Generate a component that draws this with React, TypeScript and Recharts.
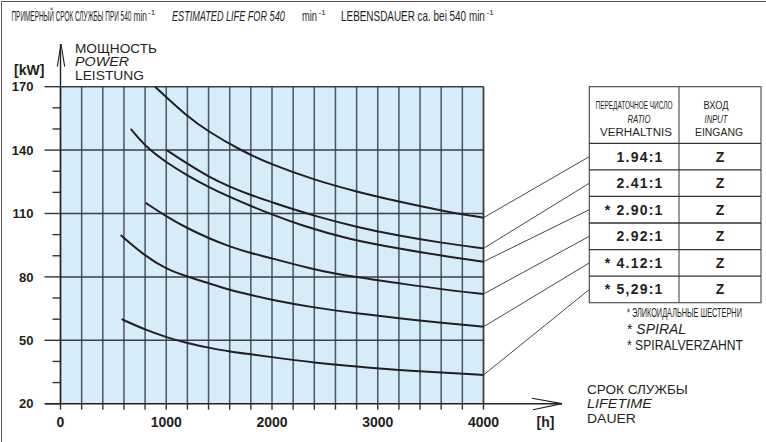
import React, { useLayoutEffect, useRef, useState } from "react";
import { LineChart, Line, XAxis, YAxis, CartesianGrid, ReferenceLine } from "recharts";

// axis ticks
const hourTicks = [0, 200, 400, 600, 800, 1000, 1200, 1400, 1600, 1800, 2000, 2200, 2400, 2600, 2800, 3000, 3200, 3400, 3600, 3800, 4000];
const hourLabels = [0, 1000, 2000, 3000, 4000];
const powerTicks = [20, 30, 40, 50, 60, 70, 80, 90, 100, 110, 120, 130, 140, 150, 160, 170];
const powerLabels = [20, 50, 80, 110, 140, 170];
const powerGrid = [50, 80, 110, 140, 170];

// table
const ratioLabels = ["1.94:1", "2.41:1", "* 2.90:1", "2.92:1", "* 4.12:1", "* 5,29:1"];
const inputLabels = ["Z", "Z", "Z", "Z", "Z", "Z"];
// where each connector meets the table (kW scale)
const rowAnchors = [136.9, 124.3, 111.8, 99.2, 86.6, 74.0];

// curves: hours -> kW
const hours194 = [894, 1200, 1401, 1697, 2003, 2400, 2801, 3201, 3605, 4000];
const power194 = [170, 155.8, 148.7, 140, 133, 125.9, 120.3, 115.6, 111.3, 108];
const hours241 = [1004, 1200, 1401, 1603, 1801, 2003, 2400, 2801, 3201, 3605, 4000];
const power241 = [140, 133.5, 127.4, 122.6, 118.7, 115.2, 108.8, 103.6, 99.4, 96.1, 93.5];
const hours290 = [664, 806, 1004, 1200, 1401, 1603, 1801, 2003, 2265, 2738, 3201, 3605, 4000];
const power290 = [150, 141.5, 134, 128, 122.5, 117.8, 113.5, 109.5, 104.5, 97.6, 93.4, 90, 87.2];
const hours292 = [806, 1004, 1200, 1401, 1603, 1801, 2003, 2400, 2801, 3201, 3605, 4000];
const power292 = [115, 108.5, 103, 98.3, 94.3, 91.2, 88.8, 83.3, 79.8, 77, 74.1, 71.9];
const hours412 = [569, 806, 1004, 1200, 1401, 1603, 1801, 2003, 2400, 2801, 3201, 3605, 4000];
const power412 = [99.8, 89.6, 83.6, 80.1, 77, 73.8, 71.4, 69.1, 65.4, 62.8, 60.4, 58.3, 56.4];
const hours529 = [578, 806, 1004, 1200, 1401, 1603, 1801, 2003, 2400, 2801, 3201, 3605, 4000];
const power529 = [60, 54.9, 51.4, 48.6, 46.5, 44.6, 43.4, 42, 39.4, 37.5, 35.9, 34.7, 33.6];

const toData = (hours: number[], power: number[]) => hours.map((h, i) => ({ h, p: power[i] }));

const series = [
  { name: "1.94:1", data: toData(hours194, power194) },
  { name: "2.41:1", data: toData(hours241, power241) },
  { name: "2.90:1", data: toData(hours290, power290) },
  { name: "2.92:1", data: toData(hours292, power292) },
  { name: "4.12:1", data: toData(hours412, power412) },
  { name: "5.29:1", data: toData(hours529, power529) },
];

const FONT = "'Liberation Sans', Arial, sans-serif";
const INK = "#231f20";

// text squeezed (or stretched) horizontally to a given width, like the condensed face in the original
function FitText(props: any) {
  const { x, y, width, anchor = "start", children, ...rest } = props;
  const ref = useRef<SVGTextElement>(null);
  const [k, setK] = useState(1);
  useLayoutEffect(() => {
    if (ref.current) {
      const w = ref.current.getComputedTextLength();
      if (w > 0) setK(width / w);
    }
  }, [width]);
  return (
    <text ref={ref} transform={`translate(${x},${y}) scale(${k},1)`} textAnchor={anchor} fontFamily={FONT} fill={INK} {...rest}>
      {children}
    </text>
  );
}

const PowerTick = (props: any) => {
  const { x, y, payload } = props;
  const major = powerLabels.includes(payload.value);
  return (
    <g>
      <line x1={x - (major ? 16 : 8)} x2={x} y1={y} y2={y} stroke="#333" strokeWidth={1.4} />
      {major && (
        <text x={x - 27} y={y} dy="0.36em" textAnchor="end" fontFamily={FONT} fontWeight="bold" fontSize={13} fill={INK}>
          {payload.value}
        </text>
      )}
    </g>
  );
};

const HourTick = (props: any) => {
  const { x, y, payload } = props;
  const major = hourLabels.includes(payload.value);
  return (
    <g>
      <line x1={x} x2={x} y1={y} y2={y + 6} stroke="#333" strokeWidth={1.4} />
      {major && (
        <text x={x} y={y + 18} dy="0.36em" textAnchor="middle" fontFamily={FONT} fontWeight="bold" fontSize={14} fill={INK}>
          {payload.value}
        </text>
      )}
    </g>
  );
};

const rowTop = 143.3;
const rowH = 26.57;

function Overlay() {
  const t = { fontFamily: FONT, fill: INK } as const;
  return (
    <svg width={766} height={442} style={{ position: "absolute", left: 0, top: 0, pointerEvents: "none" }}>
      {/* frame */}
      <line x1={1.5} y1={1.5} x2={766} y2={1.5} stroke="#555" strokeWidth={1} />
      <line x1={1.5} y1={1.5} x2={1.5} y2={442} stroke="#555" strokeWidth={1} />

      {/* titles */}
      <FitText x={11.5} y={21} width={120} fontSize={14}>ПРИМЕРНЫЙ СРОК СЛУЖБЫ ПРИ 540</FitText>
      <FitText x={133.5} y={21} width={13.5} fontSize={14}>min</FitText>
      <text x={148} y={15} fontSize={8} {...t}>-1</text>
      <FitText x={172} y={21} width={113} fontSize={14} fontStyle="italic">ESTIMATED LIFE FOR 540</FitText>
      <FitText x={302} y={21} width={15} fontSize={14}>min</FitText>
      <text x={318.5} y={15} fontSize={8} {...t}>-1</text>
      <FitText x={341} y={21} width={144} fontSize={14}>LEBENSDAUER ca. bei 540 min</FitText>
      <text x={486.5} y={15} fontSize={8} {...t}>-1</text>

      {/* y axis arrow and title */}
      <line x1={60.5} y1={403.7} x2={60.5} y2={44} stroke="#222" strokeWidth={1.4} />
      <polyline points="57.3,66.7 61,44 64.7,66.7" fill="none" stroke="#222" strokeWidth={1.1} />
      <FitText x={75} y={52.5} width={82} fontSize={12.3}>МОЩНОСТЬ</FitText>
      <FitText x={75} y={66} width={54} fontSize={12.3} fontStyle="italic">POWER</FitText>
      <FitText x={75} y={79.5} width={69} fontSize={12.3}>LEISTUNG</FitText>
      <text x={14} y={70} dy="0.36em" fontSize={14} fontWeight="bold" {...t}>[kW]</text>

      {/* x axis arrow and title */}
      <line x1={45} y1={403.7} x2={562} y2={403.7} stroke="#222" strokeWidth={1.4} />
      <polyline points="532,398.3 562,403.6 533,409.8" fill="none" stroke="#222" strokeWidth={1.1} />
      <text x={545.5} y={421.7} dy="0.36em" textAnchor="middle" fontSize={14} fontWeight="bold" {...t}>[h]</text>
      <FitText x={587} y={394} width={101} fontSize={12.5}>СРОК СЛУЖБЫ</FitText>
      <FitText x={587} y={408} width={65} fontSize={12.5} fontStyle="italic">LIFETIME</FitText>
      <FitText x={587} y={422.5} width={49} fontSize={12.5}>DAUER</FitText>

      {/* table */}
      <rect x={589.3} y={86.7} width={171.7} height={rowTop + rowH * 6 - 86.7} fill="none" stroke="#444" strokeWidth={1.1} />
      <line x1={679} y1={86.7} x2={679} y2={rowTop + rowH * 6} stroke="#444" strokeWidth={1.1} />
      {ratioLabels.map((_, i) => (
        <line key={"r" + i} x1={589.3} x2={761} y1={rowTop + rowH * i} y2={rowTop + rowH * i} stroke="#333" strokeWidth={1.3} />
      ))}
      <FitText x={634} y={109} width={77} anchor="middle" fontSize={11}>ПЕРЕДАТОЧНОЕ ЧИСЛО</FitText>
      <FitText x={639} y={122.5} width={23} anchor="middle" fontSize={11} fontStyle="italic">RATIO</FitText>
      <FitText x={636} y={135.5} width={72} anchor="middle" fontSize={11}>VERHALTNIS</FitText>
      <FitText x={716} y={109} width={25} anchor="middle" fontSize={11}>ВХОД</FitText>
      <FitText x={716} y={122.5} width={23} anchor="middle" fontSize={11} fontStyle="italic">INPUT</FitText>
      <FitText x={719} y={135.5} width={48} anchor="middle" fontSize={11}>EINGANG</FitText>
      {ratioLabels.map((r, i) => (
        <text key={"v" + i} x={663.5} y={rowTop + rowH * (i + 0.5)} dy="0.36em" textAnchor="end" fontSize={14} fontWeight="bold" letterSpacing={1.2} {...t}>
          {r}
        </text>
      ))}
      {inputLabels.map((z, i) => (
        <text key={"z" + i} x={720} y={rowTop + rowH * (i + 0.5)} dy="0.36em" textAnchor="middle" fontSize={14} fontWeight="bold" {...t}>
          {z}
        </text>
      ))}

      {/* footnotes */}
      <FitText x={627} y={316.5} width={115} fontSize={13}>* ЭЛИКОИДАЛЬНЫЕ ШЕСТЕРНИ</FitText>
      <text x={627} y={329} dy="0.36em" fontSize={14} {...t}>
        * <tspan fontStyle="italic">SPIRAL</tspan>
      </text>
      <FitText x={627} y={350} width={116} fontSize={14}>* SPIRALVERZAHNT</FitText>
    </svg>
  );
}

export default function App() {
  return (
    <div style={{ position: "absolute", left: 0, top: 0, width: 766, height: 442, background: "#fff" }}>
      <LineChart width={766} height={442} margin={{ top: 86.7, right: 282.5, bottom: 0, left: 0 }}>
        <CartesianGrid horizontal={false} vertical fill="#d6ecf9" fillOpacity={1} stroke="#4a565f" strokeWidth={1.5} />
        <XAxis
          dataKey="h"
          type="number"
          domain={[0, 4000]}
          ticks={hourTicks}
          interval={0}
          height={38.3}
          axisLine={false}
          tickLine={false}
          tickSize={0}
          tickMargin={0}
          tick={(p: any) => <HourTick {...p} />}
          allowDataOverflow
        />
        <YAxis
          type="number"
          domain={[20, 170]}
          ticks={powerTicks}
          interval={0}
          width={60.5}
          axisLine={false}
          tickLine={false}
          tickSize={0}
          tickMargin={0}
          tick={(p: any) => <PowerTick {...p} />}
          allowDataOverflow
        />
        {powerGrid.map((v) => (
          <ReferenceLine key={v} y={v} stroke="#3a4046" strokeWidth={1.5} />
        ))}
        <ReferenceLine x={4000} stroke="#3a4046" strokeWidth={1.5} />
        {series.map((s) => (
          <Line
            key={s.name}
            data={s.data}
            dataKey="p"
            name={s.name}
            type="basis"
            stroke={INK}
            strokeWidth={2}
            dot={false}
            activeDot={false}
            isAnimationActive={false}
          />
        ))}
        {series.map((s, i) => (
          <ReferenceLine
            key={"c" + s.name}
            segment={[
              { x: 4000, y: s.data[s.data.length - 1].p },
              { x: 5000, y: rowAnchors[i] },
            ]}
            ifOverflow="visible"
            stroke="#333"
            strokeWidth={0.9}
          />
        ))}
      </LineChart>
      <Overlay />
    </div>
  );
}
